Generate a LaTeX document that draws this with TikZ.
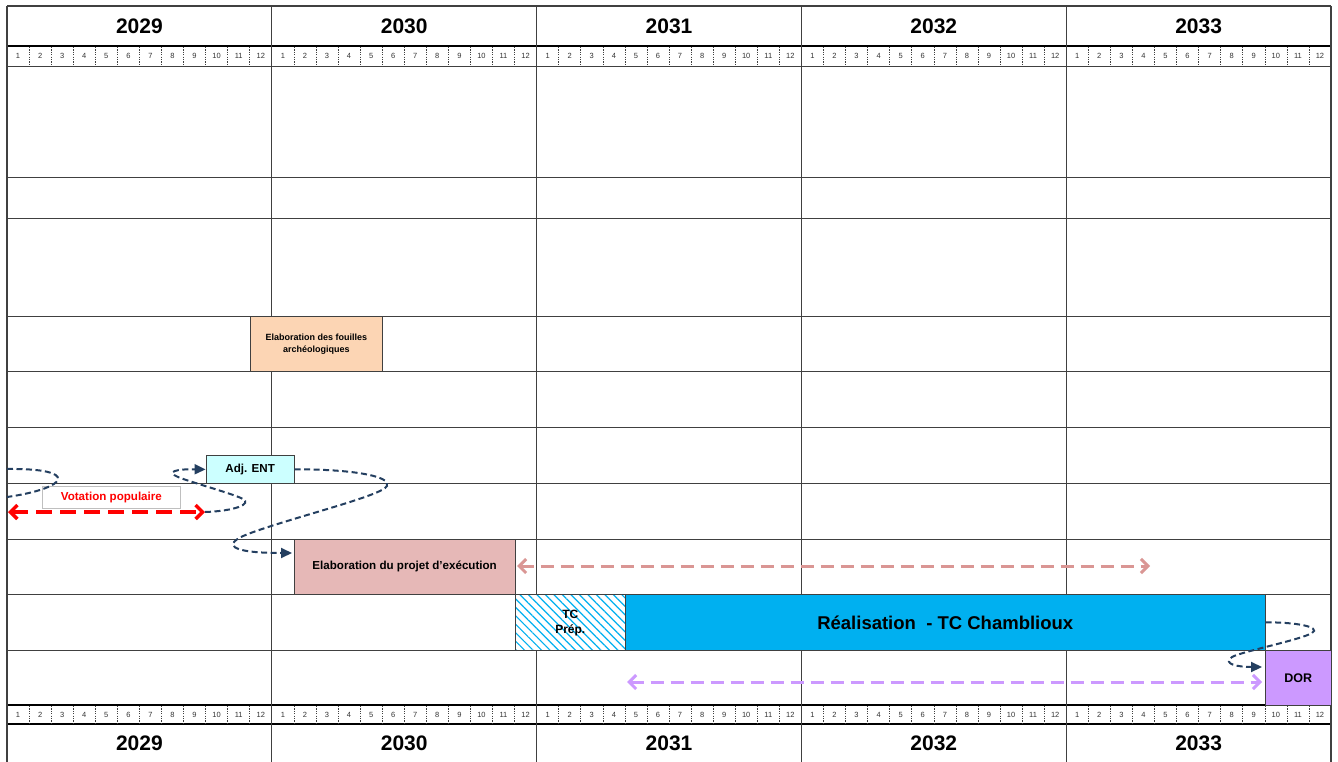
\documentclass[tikz,border=0pt]{standalone}
\usepackage{fontspec}
\setmainfont{Liberation Sans}
\usetikzlibrary{arrows.meta,calc,patterns.meta}
\definecolor{gridc}{HTML}{404040}
\definecolor{peach}{HTML}{FCD5B4}
\definecolor{adjc}{HTML}{CCFFFF}
\definecolor{projc}{HTML}{E6B8B7}
\definecolor{pinkarr}{HTML}{DA9694}
\definecolor{realc}{HTML}{00B0F0}
\definecolor{dorc}{HTML}{CC99FF}
\definecolor{navy}{HTML}{243F60}
\definecolor{votegray}{HTML}{BFBFBF}
\begin{document}
\begin{tikzpicture}[x=1pt,y=-1pt,
  gridline/.style={draw=gridc,line width=0.9pt},
  thickline/.style={draw=black,line width=2pt},
  monthsep/.style={draw=black!75,line width=0.6pt,dash pattern=on 1.2pt off 1.2pt},
  monthlbl/.style={font=\fontsize{7.5}{8}\selectfont,text=black!80,inner sep=0pt},
  yearlbl/.style={font=\bfseries\fontsize{21}{23}\selectfont,inner sep=0pt},
  bar/.style={draw=gridc,line width=0.8pt,anchor=north west,inner sep=1pt,align=center,font=\bfseries\fontsize{11.6}{13}\selectfont},
  dep/.style={draw=navy,line width=2pt,dash pattern=on 6pt off 3.5pt,-{Triangle[length=11pt,width=10pt]}},
  deploose/.style={draw=navy,line width=2pt,dash pattern=on 6pt off 3.5pt},
  spanarrow/.style={line width=3pt,dash pattern=on 13pt off 7pt,{Straight Barb[length=7pt,width=14pt]}-{Straight Barb[length=7pt,width=14pt]}}
]
\useasboundingbox (0,0) rectangle (1338,762);
\fill[white] (0,0) rectangle (1338,762);

% horizontal grid lines
\foreach \yy in {66,177,218,316,371,427,483,539,594,650}{
  \draw[gridline] (7,\yy) -- (1331,\yy);
}
\draw[gridline,line width=1.2pt] (7,6) -- (1331,6);
\draw[thickline] (7,46) -- (1331,46);
\draw[thickline,line width=1.6pt] (7,705) -- (1331,705);
\draw[thickline] (7,724) -- (1331,724);

% months and years
\foreach \k/\yr in {0/2029,1/2030,2/2031,3/2032,4/2033}{
  \node[yearlbl] (yt\k) at ({7+264.8*\k+132.4},26) {\yr};
  \node[yearlbl] (yb\k) at ({7+264.8*\k+132.4},743) {\yr};
  \foreach \m in {1,...,12}{
    \node[monthlbl] (mt\k-\m) at ({7+264.8*\k+22.0667*(\m-0.5)},56) {\m};
    \node[monthlbl] (mb\k-\m) at ({7+264.8*\k+22.0667*(\m-0.5)},714.5) {\m};
  }
  \foreach \m in {1,...,11}{
    \draw[monthsep] ({7+264.8*\k+22.0667*\m},47) -- ++(0,18);
    \draw[monthsep] ({7+264.8*\k+22.0667*\m},706) -- ++(0,17);
  }
}
% vertical year lines
\foreach \k in {0,...,5}{
  \draw[gridline,line width=1.1pt] ({7+264.8*\k},6) -- ({7+264.8*\k},762);
}

% bars
\node[bar,fill=peach,minimum width=132.4pt,minimum height=55pt,font=\bfseries\fontsize{9}{12}\selectfont]
  (fouilles) at (249.7,316) {Elaboration des fouilles\\arch\'eologiques};
\node[bar,fill=adjc,minimum width=88.3pt,minimum height=28pt] (adj) at (205.6,455) {Adj. ENT};
\node[draw=votegray,line width=0.8pt,fill=white,anchor=north west,minimum width=138pt,minimum height=22pt,
  inner sep=1pt,text=red,font=\bfseries\fontsize{11.6}{13}\selectfont] (vote) at (42,486) {Votation populaire};
\node[bar,fill=projc,minimum width=220.7pt,minimum height=55pt] (proj) at (293.9,539) {Elaboration du projet d'ex\'ecution};
\node[bar,preaction={fill=white},pattern={Lines[angle=-45,distance=6pt,line width=1.2pt]},pattern color=realc,
  minimum width=110.3pt,minimum height=56pt,font=\bfseries\fontsize{12}{15}\selectfont] (prep) at (514.5,594) {TC\\Pr\'ep.};
\node[bar,fill=realc,minimum width=639.9pt,minimum height=56pt,font=\bfseries\fontsize{18.5}{20}\selectfont]
  (real) at (624.9,594) {R\'ealisation\ \ - TC Chamblioux};
\node[bar,fill=dorc,minimum width=66.2pt,minimum height=55pt,font=\bfseries\fontsize{12.5}{14}\selectfont] (dor) at (1264.8,650) {DOR};

% span arrows
\coordinate (vL) at (8,512);
\coordinate (vR) at (205,512);
\draw[spanarrow,red,line width=3.5pt,dash pattern=on 16pt off 8pt] (vL) -- (vR);
\coordinate (pinkL) at (517,566);
\coordinate (pinkR) at (1150,566);
\draw[spanarrow,pinkarr] (pinkL) -- (pinkR);
\coordinate (lavL) at (627,682);
\coordinate (lavR) at (1262,682);
\draw[spanarrow,dorc] (lavL) -- (lavR);

% dependency curves
\coordinate (offA) at (7,469);
\coordinate (offB) at (7,497);
\draw[deploose] (offA) .. controls (80,468) and (70,488) .. (offB);
\draw[dep] (vR) .. controls (235,511) and (252,504) .. (243,499)
  .. controls (234,494) and (190,482) .. (178,477)
  .. controls (166,472) and (175,469) .. (adj.west);
\coordinate (projin) at (292,553);
\draw[dep] (adj.east) .. controls (350,469) and (392,476) .. (387,486)
  .. controls (382,496) and (290,518) .. (248,534)
  .. controls (222,544) and (228,553) .. (projin);
\coordinate (dorin) at (1262,667);
\draw[dep] (real.east) .. controls (1295,622) and (1322,627) .. (1312,633)
  .. controls (1300,640) and (1240,652) .. (1232,657)
  .. controls (1222,664) and (1238,667) .. (dorin);
\end{tikzpicture}
\end{document}
